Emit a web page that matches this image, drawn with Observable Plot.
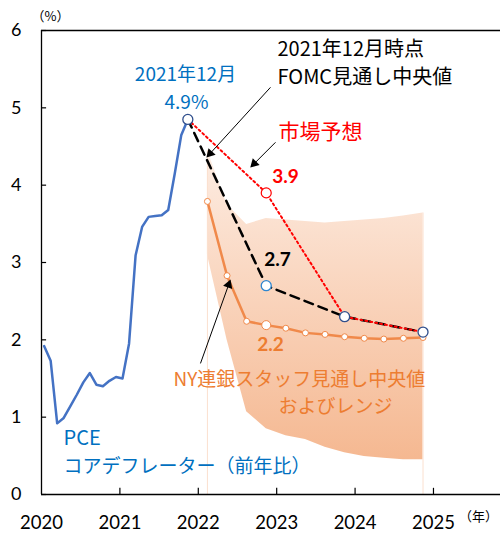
<!DOCTYPE html>
<html><head><meta charset="utf-8">
<script src="https://cdn.jsdelivr.net/npm/d3@7"></script>
<script src="https://cdn.jsdelivr.net/npm/@observablehq/plot@0.6"></script>
<style>body{margin:0;background:#fff}</style>
</head><body><div id="chart"></div>
<script>
// ---- data ----
const pceMonths = ["2020-02","2020-03","2020-04","2020-05","2020-06","2020-07","2020-08","2020-09","2020-10","2020-11","2020-12",
  "2021-01","2021-02","2021-03","2021-04","2021-05","2021-06","2021-07","2021-08","2021-09","2021-10","2021-11","2021-12"];
const pceValues = [1.92,1.73,0.92,0.99,1.14,1.29,1.45,1.57,1.42,1.40,1.47,1.52,1.50,1.95,3.09,3.46,3.59,3.60,3.61,3.68,4.15,4.65,4.85];

const fcMonths = ["2021-12","2022-12","2023-12","2024-12"];
const fomcValues = [4.85,2.7,2.3,2.1];
const marketValues = [4.85,3.9,2.3,2.1];

const nyMonths = ["2022-03","2022-06","2022-09","2022-12","2023-03","2023-06","2023-09","2023-12","2024-03","2024-06","2024-09","2024-12"];
const nyMedian = [3.79,2.83,2.24,2.19,2.15,2.09,2.07,2.04,2.02,2.01,2.02,2.03];
const nyLow    = [3.10,2.00,1.07,0.85,0.76,0.71,0.61,0.54,0.49,0.47,0.45,0.45];
const nyHigh   = [4.45,3.75,3.49,3.57,3.55,3.53,3.51,3.53,3.55,3.57,3.60,3.64];

const xTicks = [2020,2021,2022,2023,2024,2025];
const yTicks = [0,1,2,3,4,5,6];

// month string -> position on the year axis
const toX = s => { const [y,m] = s.split("-").map(Number); return y + (m - 1.6) / 12; };

const pce = pceMonths.map((m,i) => ({x: toX(m), v: pceValues[i]}));
const fomc = fcMonths.map((m,i) => ({x: toX(m), v: fomcValues[i], i}));
const market = fcMonths.map((m,i) => ({x: toX(m), v: marketValues[i], i}));
const ny = nyMonths.map((m,i) => ({x: toX(m), v: nyMedian[i], lo: nyLow[i], hi: nyHigh[i], i}));

// annotation arrows (data units): shaft start -> tip
const arrows = [
  {x1: 2022.921, y1: 5.265, x2: 2022.130, y2: 4.386},
  {x1: 2022.985, y1: 4.554, x2: 2022.691, y2: 4.256},
  {x1: 2022.028, y1: 1.695, x2: 2022.398, y2: 2.743}
];

const JP = "'Noto Sans CJK JP', 'Noto Sans', sans-serif";
const NUM = "Lato, 'Noto Sans', sans-serif";
const BLUE_T = "#0070c0", ORANGE = "#f0894a", ORANGE_T = "#ed7d31", RED = "#ff0000", NAVY = "#2f4e8c";

const headMarks = arrows.map(a => {
  // direction in pixel space (x: 78.4 px/yr, y: 77.3 px/unit, y inverted)
  const dx = (a.x2 - a.x1) * 78.4, dy = -(a.y2 - a.y1) * 77.3;
  const len = Math.hypot(dx, dy), ux = dx / len, uy = dy / len;
  const ang = Math.atan2(dx, -dy) * 180 / Math.PI;
  return Plot.dot([a], {x: "x2", y: "y2", symbol: "triangle", r: 3.6, rotate: ang, fill: "black", stroke: "none", dx: -ux * 2.5, dy: -uy * 2.5});
});

const chart = Plot.plot({
  width: 500, height: 534,
  marginLeft: 41, marginRight: 0, marginTop: 30, marginBottom: 40,
  x: {domain: [2020, 2025.855], axis: null},
  y: {domain: [0, 6], axis: null},
  style: {background: "white", overflow: "visible"},
  marks: [
    Plot.areaY(ny, {x: "x", y1: "lo", y2: "hi", fill: "url(#bandGrad)", curve: "linear"}),
    Plot.ruleX([ny[0], ny[ny.length-1]], {x: "x", y1: 0, y2: "hi", stroke: "#fbe0cf", strokeWidth: 1}),
    // frame
    Plot.ruleY([6], {stroke: "black", strokeWidth: 1.3}),
    Plot.ruleX([2020], {stroke: "black", strokeWidth: 1.3}),
    Plot.ruleY([0], {stroke: "black", strokeWidth: 1.5}),
    Plot.ruleX(xTicks.slice(1), {x: d => d, y1: 0, y2: 0.08, stroke: "black", strokeWidth: 1.2}),
    Plot.ruleY(yTicks, {y: d => d, x1: 2020, x2: 2020.065, stroke: "black", strokeWidth: 1.2}),
    Plot.text(yTicks, {x: 2020, y: d => d, text: d => String(d), dx: -20, textAnchor: "end", fontSize: 18, fontFamily: NUM, fill: "black"}),
    Plot.text(xTicks, {x: d => d, y: 0, text: d => String(d), dy: 29, fontSize: 18.5, fontFamily: NUM, fill: "black"}),
    // series
    Plot.line(pce, {x: "x", y: "v", stroke: "#4472c4", strokeWidth: 2.5}),
    Plot.line(ny, {x: "x", y: "v", stroke: ORANGE, strokeWidth: 2.5}),
    Plot.dot(ny.filter(d => d.i !== 3), {x: "x", y: "v", r: 3, fill: "white", stroke: ORANGE, strokeWidth: 1}),
    Plot.dot(ny.filter(d => d.i === 3), {x: "x", y: "v", r: 4.5, fill: "white", stroke: ORANGE, strokeWidth: 1}),
    Plot.line(fomc, {x: "x", y: "v", stroke: "black", strokeWidth: 2.5, strokeDasharray: "9,6"}),
    Plot.line(market, {x: "x", y: "v", stroke: RED, strokeWidth: 2, strokeDasharray: "2,3"}),
    Plot.dot(market.filter(d => d.i === 1), {x: "x", y: "v", r: 5, fill: "white", stroke: RED, strokeWidth: 1.2}),
    Plot.dot(fomc.filter(d => d.i !== 1), {x: "x", y: "v", r: 5, fill: "white", stroke: NAVY, strokeWidth: 1.3}),
    Plot.dot(fomc.filter(d => d.i === 1), {x: "x", y: "v", r: 5, fill: "white", stroke: "#2e86d0", strokeWidth: 1.3}),
    // arrows
    Plot.link(arrows, {x1: "x1", y1: "y1", x2: "x2", y2: "y2", stroke: "black", strokeWidth: 1}),
    ...headMarks,
    // annotations
    Plot.text(["（%）"], {x: 2020.115, y: 6.171, text: d => d, fontSize: 13, fontFamily: JP, fill: "black"}),
    Plot.text(["（年）"], {x: 2025.574, y: -0.285, text: d => d, fontSize: 13, fontFamily: JP, fill: "black"}),
    Plot.text(["2021年12月"], {x: 2021.837, y: 5.42, text: d => d, fontSize: 19, fontFamily: JP, fill: BLUE_T}),
    Plot.text(["4.9%"], {x: 2021.849, y: 5.07, text: d => d, fontSize: 19, fontFamily: JP, fill: BLUE_T}),
    Plot.text(["2021年12月時点"], {x: 2023.010, y: 5.757, text: d => d, textAnchor: "start", fontSize: 20, fontFamily: JP, fill: "black"}),
    Plot.text(["FOMC見通し中央値"], {x: 2023.010, y: 5.395, text: d => d, textAnchor: "start", fontSize: 20, fontFamily: JP, fill: "black"}),
    Plot.text(["市場予想"], {x: 2023.023, y: 4.683, text: d => d, textAnchor: "start", fontSize: 21, fontFamily: JP, fill: RED}),
    Plot.text(["3.9"], {x: 2023.112, y: 4.101, text: d => d, fontSize: 19, fontWeight: "bold", fontFamily: NUM, fill: RED}),
    Plot.text(["2.7"], {x: 2023.010, y: 3.040, text: d => d, fontSize: 19, fontWeight: "bold", fontFamily: NUM, fill: "black"}),
    Plot.text(["2.2"], {x: 2022.921, y: 1.928, text: d => d, fontSize: 19, fontWeight: "bold", fontFamily: NUM, fill: ORANGE_T}),
    Plot.text(["NY連銀スタッフ見通し中央値"], {x: 2021.684, y: 1.485, text: d => d, textAnchor: "start", fontSize: 19, fontFamily: JP, fill: ORANGE_T}),
    Plot.text(["およびレンジ"], {x: 2023.023, y: 1.128, text: d => d, textAnchor: "start", fontSize: 19, fontFamily: JP, fill: ORANGE_T}),
    Plot.text(["PCE"], {x: 2020.281, y: 0.724, text: d => d, textAnchor: "start", fontSize: 20, fontFamily: JP, fill: BLUE_T}),
    Plot.text(["コアデフレーター（前年比）"], {x: 2020.281, y: 0.362, text: d => d, textAnchor: "start", fontSize: 19, fontFamily: JP, fill: BLUE_T})
  ]
});

const svg = d3.select(chart);
const defs = svg.insert("defs", ":first-child");
const g = defs.append("linearGradient").attr("id", "bandGrad").attr("x1", 0).attr("y1", 0).attr("x2", 0).attr("y2", 1);
g.append("stop").attr("offset", "0%").attr("stop-color", "#fdede3");
g.append("stop").attr("offset", "100%").attr("stop-color", "#f5b891");
document.getElementById("chart").appendChild(chart);
</script>
</body></html>
